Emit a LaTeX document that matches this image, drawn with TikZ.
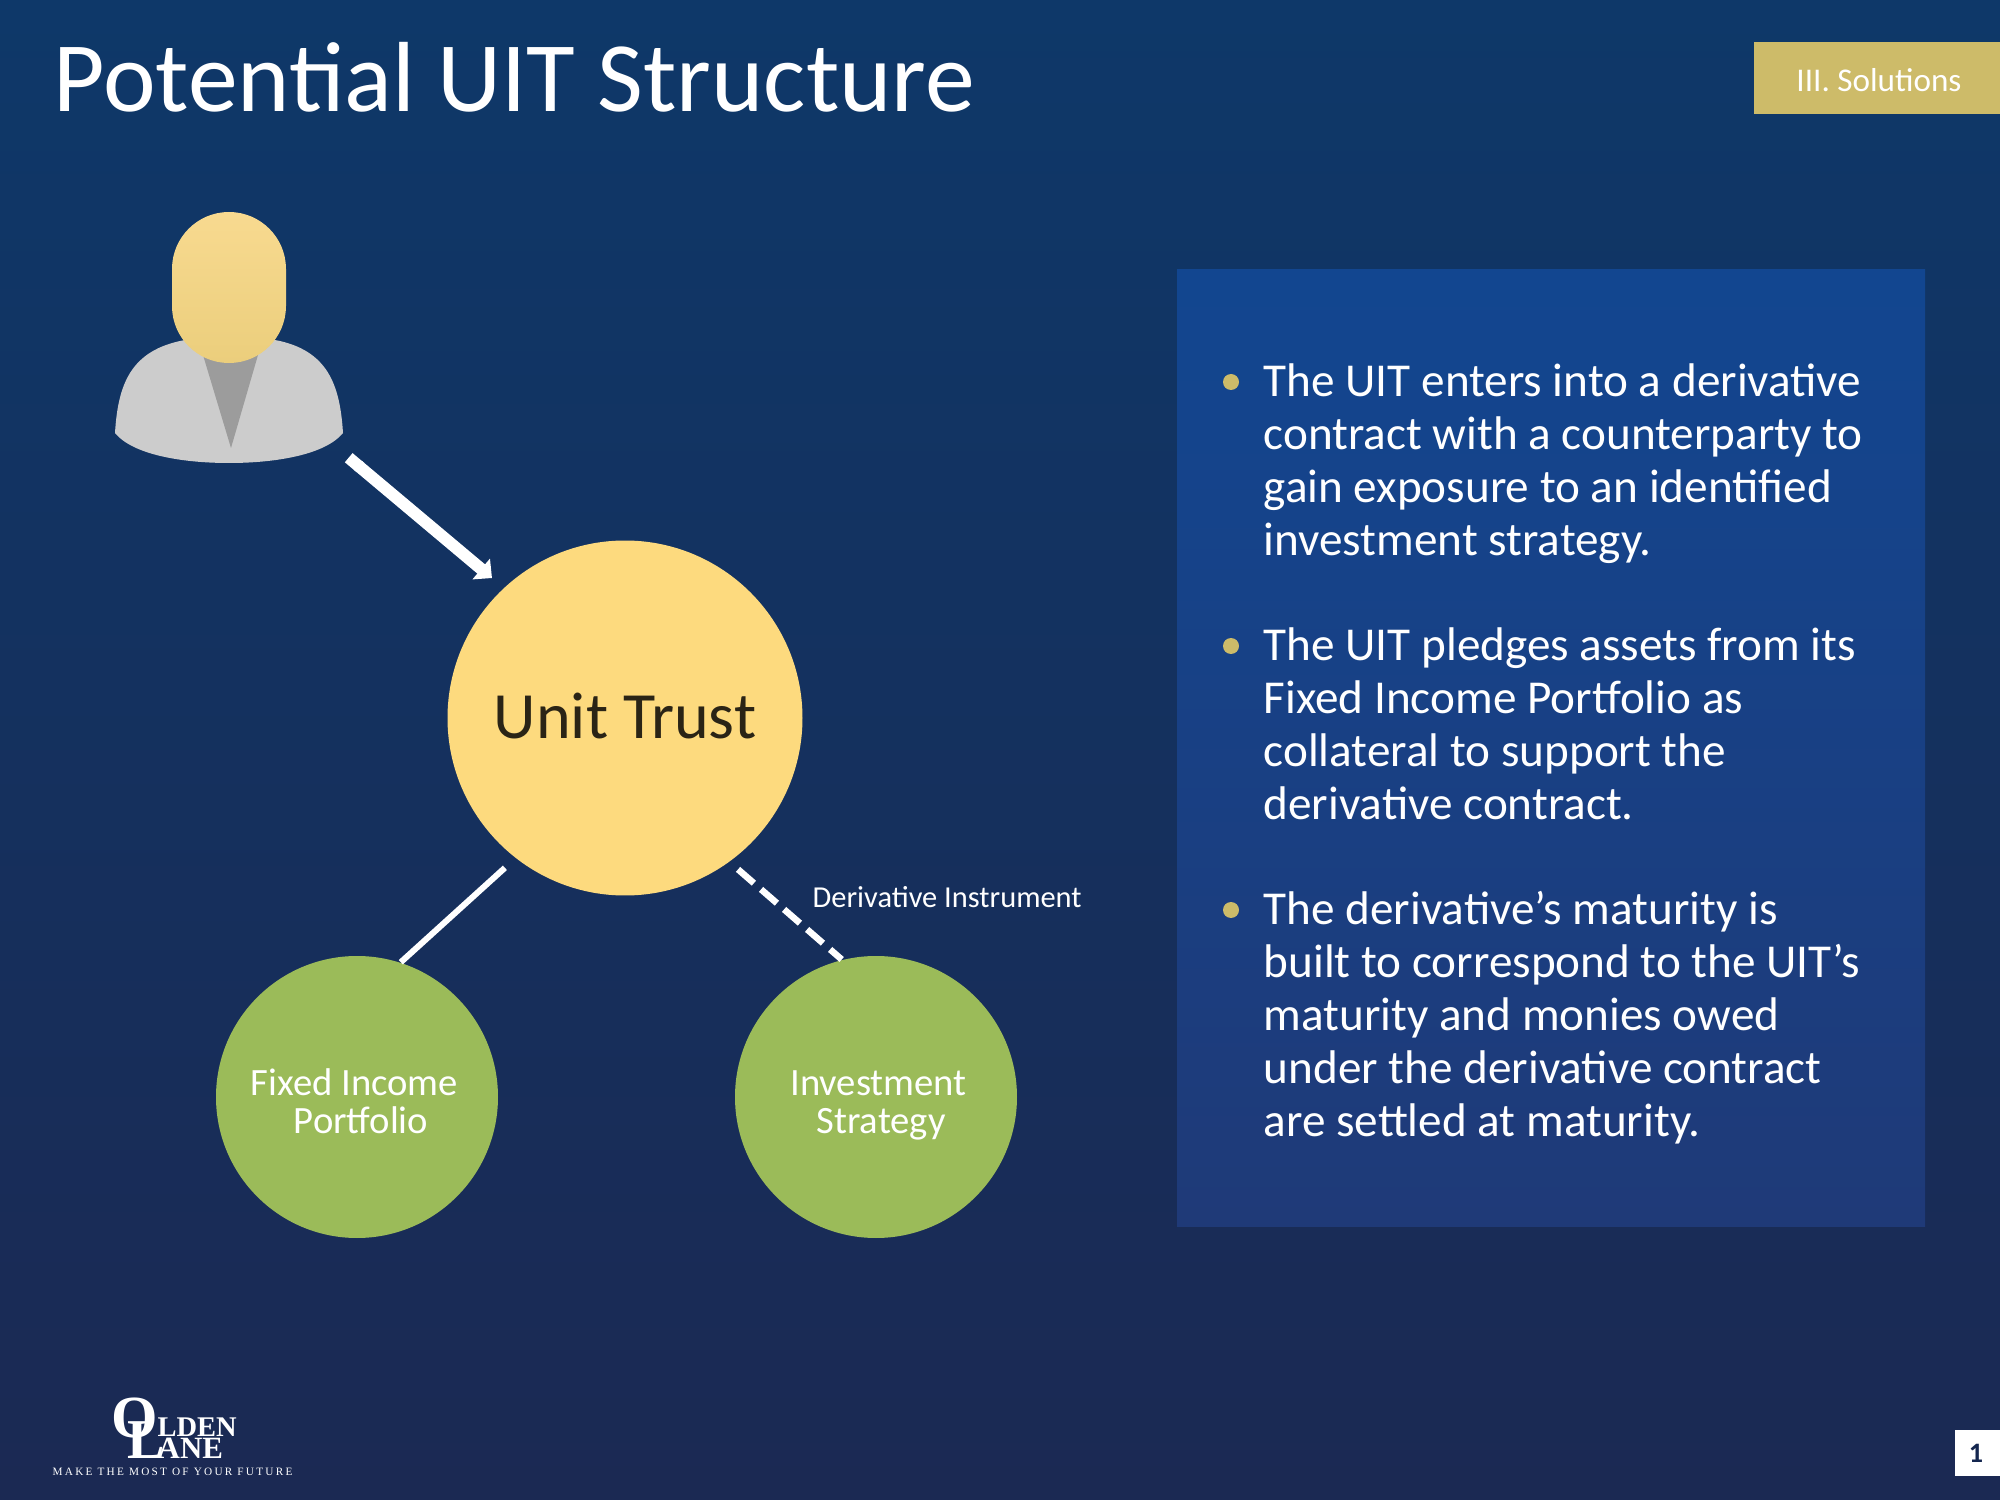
\documentclass[tikz,border=0pt]{standalone}
\usepackage{fontspec}
\setmainfont{Carlito}
\newfontfamily\logofont{Liberation Serif}
\usepackage{xcolor}
\usetikzlibrary{positioning,arrows.meta}
\definecolor{bgtop}{HTML}{0E3869}
\definecolor{bgbottom}{HTML}{1B2953}
\definecolor{paneltop}{HTML}{124690}
\definecolor{panelbottom}{HTML}{1F3A78}
\definecolor{tabgold}{HTML}{CDBB69}
\definecolor{trustyellow}{HTML}{FDDA7E}
\definecolor{headtop}{HTML}{F8DA90}
\definecolor{headbottom}{HTML}{EBCE7C}
\definecolor{assetgreen}{HTML}{9BBB59}
\definecolor{inkdark}{HTML}{2A2416}
\definecolor{pagenavy}{HTML}{14264F}

\begin{document}
\begin{tikzpicture}[
    x=0.1mm, y=-0.1mm,
    trustnode/.style={circle, fill=trustyellow, minimum size=35.5mm, inner sep=0pt, text=inkdark, text depth=0.5mm, font=\fontsize{18.8}{22}\selectfont},
    assetnode/.style={circle, fill=assetgreen, minimum size=28.2mm, inner sep=0pt, align=center, text=white, text height=8.5mm, font=\fontsize{11}{10.9}\selectfont},
    bodytext/.style={anchor=north west, inner sep=0pt, align=left, text=white, font=\fontsize{13.43}{15.05}\selectfont},
    dotnode/.style={circle, fill=tabgold, minimum size=1.6mm, inner sep=0pt},
    logotext/.style={inner sep=0pt, text=white, font=\logofont\bfseries},
    arr/.style={{Butt Cap}-{Triangle[length=4pt,width=7.5pt]}, line width=1.2mm, draw=white},
    conn/.style={line width=0.6mm, draw=white},
    dashconn/.style={line width=0.65mm, draw=white, dash pattern=on 2.1mm off 0.95mm}
]
    \useasboundingbox (0,0) rectangle (2000,1500);
    \shade[top color=bgtop, bottom color=bgbottom] (0,0) rectangle (2000,1500);

    % heading and section tab
    \node[anchor=base west, inner sep=0pt, text=white, font=\fontsize{28.35}{32}\selectfont] (title) at (53,112) {Potential UIT Structure};
    \fill[tabgold] (1754,42) rectangle (2000,114);
    \node[text=white, inner sep=0pt, font=\fontsize{9.44}{11}\selectfont] (tab) at (1879,80) {III. Solutions};

    % investor figure
    \node[minimum size=24.6mm, inner sep=0pt] (person) at (225,334) {};
    \fill[black!20] (115,433) .. controls (118,385) and (130,350) .. (185,340) -- (275,340)
        .. controls (328,350) and (340,385) .. (343,433)
        .. controls (325,455) and (275,463) .. (229,463)
        .. controls (183,463) and (133,455) .. (115,433) -- cycle;
    \fill[black!39] (203,355) -- (258,355) -- (231,448) -- cycle;
    \shade[top color=headtop, bottom color=headbottom, rounded corners=5.7mm] (172,212) rectangle (286,363);

    % structure
    \node[trustnode] (trust) at (625,718) {Unit Trust};
    \node[assetnode] (fixed) at (357,1097) {Fixed Income\hspace*{0.5mm}\\\hspace*{0.8mm}Portfolio\strut};
    \node[assetnode] (strategy) at (876,1097) {\hspace*{0.5mm}Investment\\\hspace*{1mm}Strategy\strut};
    \node[anchor=west, inner sep=0pt, text=white, font=\fontsize{8.66}{10}\selectfont] (deriv) at (812,897) {Derivative Instrument};

    \draw[arr, shorten >=1.5mm] (person.south east) -- (trust.133.5);
    \draw[conn, shorten <=1.4mm] (trust.232) -- (fixed.72.6);
    \draw[dashconn, shorten <=1.1mm] (trust.306) -- (strategy.104.4);

    % text panel
    \shade[top color=paneltop, bottom color=panelbottom] (1177,270) rectangle (1925,1226);
    \node[dotnode] (dota) at (1231,382) {};
    \node[dotnode] (dotb) at (1231,646) {};
    \node[dotnode] (dotc) at (1231,910) {};
    \node[bodytext] (parta) at (1263,363) {The UIT enters into a derivative\\contract with a counterparty to\\gain exposure to an identified\\investment strategy.};
    \node[bodytext] (partb) at (1263,627) {The UIT pledges assets from its\\Fixed Income Portfolio as\\collateral to support the\\derivative contract.};
    \node[bodytext] (partc) at (1263,891) {The derivative’s maturity is\\built to correspond to the UIT’s\\maturity and monies owed\\under the derivative contract\\are settled at maturity.};

    % logo
    \node[logotext, anchor=base, font=\logofont\bfseries\fontsize{17}{17}\selectfont] (logoo) at (135,1437) {O};
    \node[logotext, anchor=base, font=\logofont\bfseries\fontsize{16}{16}\selectfont] (logol) at (146,1458) {L};
    \node[logotext, anchor=base west, font=\logofont\bfseries\fontsize{8.1}{8}\selectfont] (logoa) at (157,1436) {LDEN};
    \node[logotext, anchor=base west, font=\logofont\bfseries\fontsize{8.8}{9}\selectfont] (logob) at (157,1458) {ANE};
    \node[logotext, anchor=base west, font=\logofont\fontsize{3.2}{4}\selectfont] (logoc) at (52,1475) {\addfontfeature{LetterSpace=20}MAKE THE MOST OF YOUR FUTURE};

    % page number
    \fill[white] (1955,1430) rectangle (2000,1476);
    \node[text=pagenavy, inner sep=0pt, font=\bfseries\fontsize{8}{10}\selectfont] (pagenum) at (1976,1453) {1};
\end{tikzpicture}
\end{document}
